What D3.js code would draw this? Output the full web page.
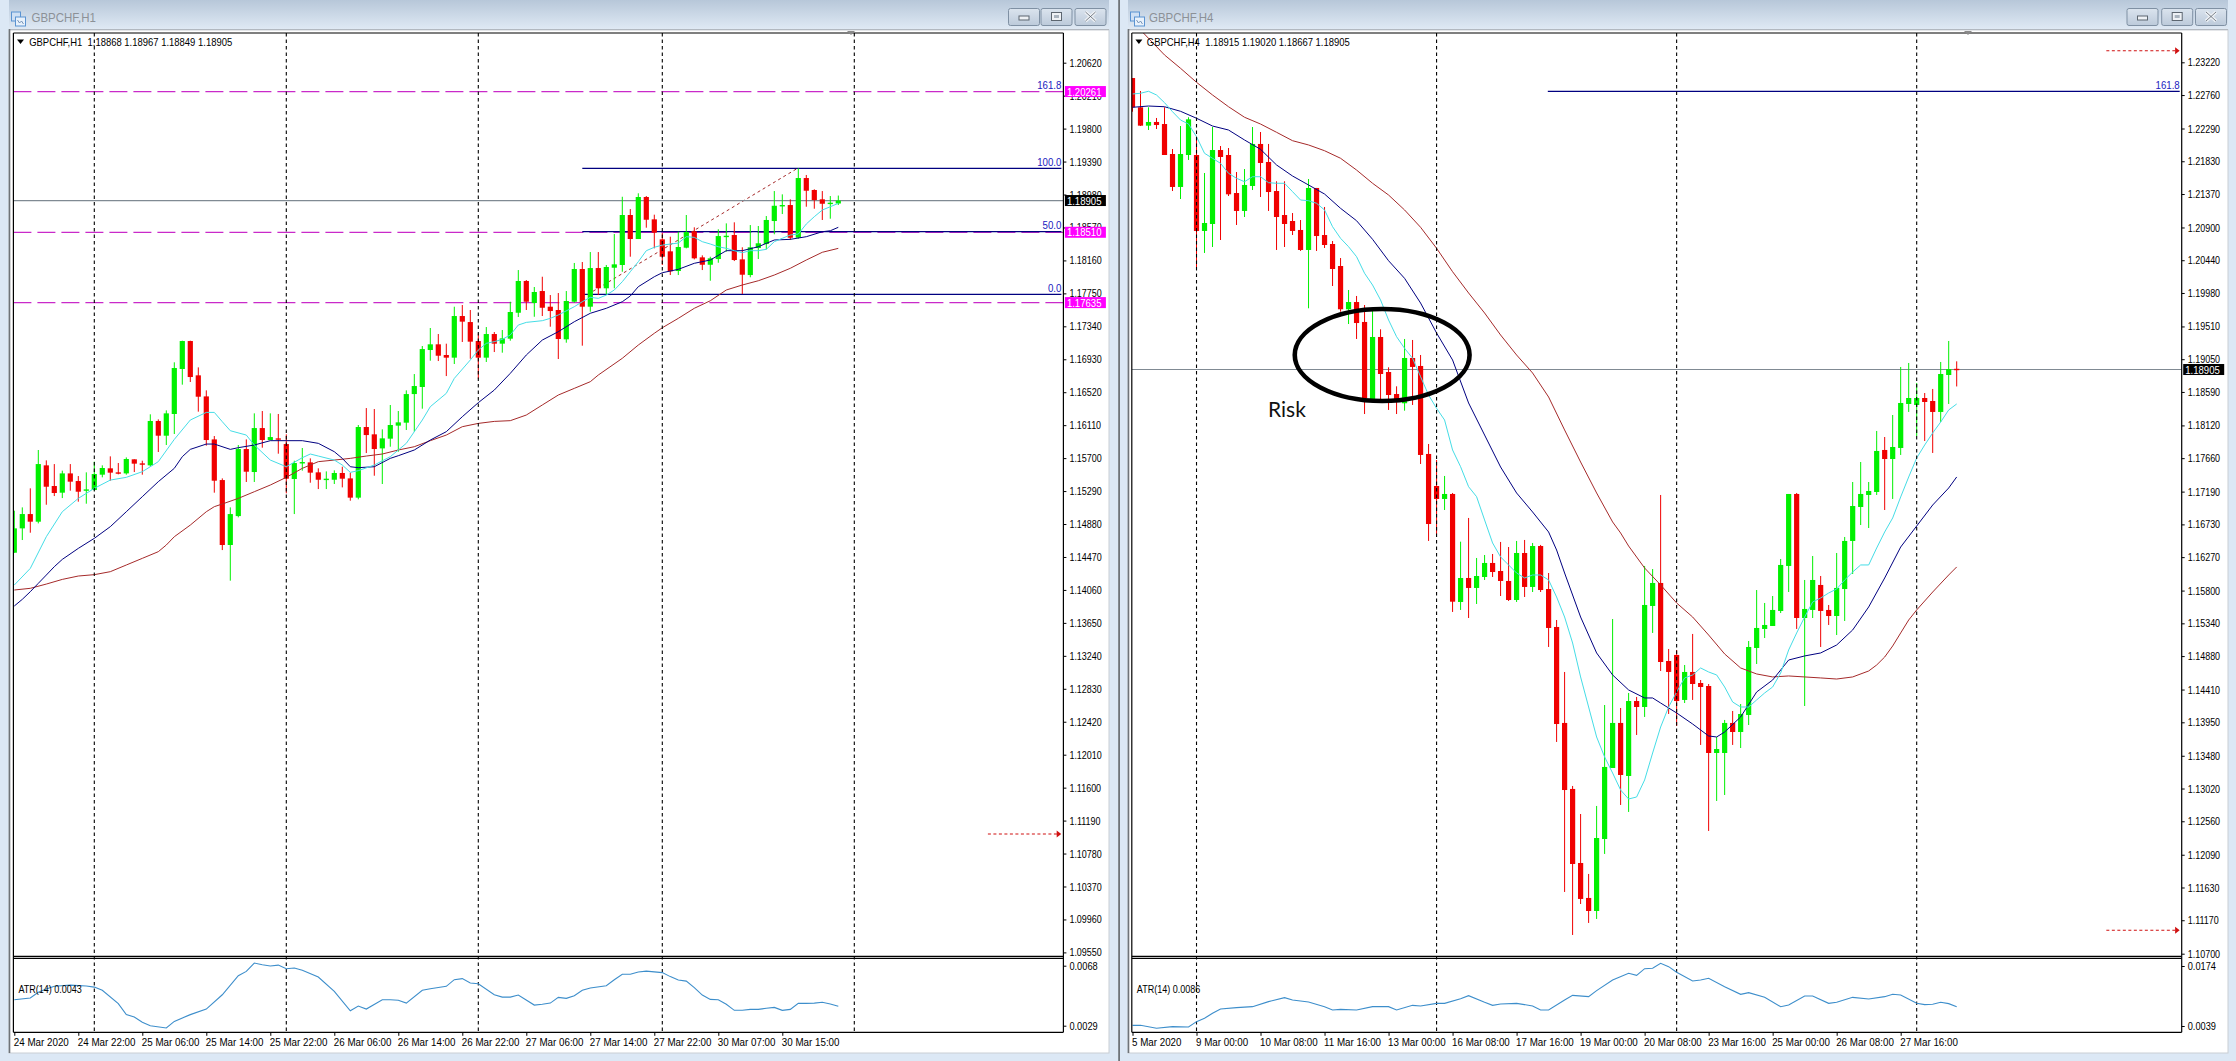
<!DOCTYPE html>
<html><head><meta charset="utf-8">
<script src="https://cdn.jsdelivr.net/npm/d3@7/dist/d3.min.js"></script>
<style>html,body{margin:0;padding:0;background:#dce8f5;overflow:hidden}svg{display:block}text{font-family:"Liberation Sans",Arial,sans-serif}</style>
</head><body>
<svg id="c" width="2236" height="1061"></svg>
<script>
// ---------- H1 chart data ----------
const h1Open=[1.14523,1.14826,1.15004,1.14909,1.15610,1.15353,1.15270,1.15510,1.15415,1.15295,
1.15303,1.15494,1.15573,1.15523,1.15510,1.15685,1.15635,1.15610,1.16162,1.15979,
1.16249,1.16809,1.17157,1.16730,1.16468,1.15933,1.15427,1.14619,1.14979,1.15813,
1.15527,1.16074,1.15925,1.15946,1.15875,1.15440,1.15635,1.15647,1.15523,1.15431,
1.15431,1.15515,1.15448,1.15208,1.16087,1.15996,1.15821,1.15942,1.16104,1.16141,
1.16497,1.16585,1.17045,1.17116,1.16983,1.16950,1.17468,1.17393,1.17157,1.16950,
1.17244,1.17124,1.17186,1.17509,1.17904,1.17630,1.17779,1.17584,1.17543,1.17178,
1.17646,1.18053,1.17584,1.18065,1.17813,1.18069,1.18103,1.18725,1.18426,1.18949,
1.18671,1.18422,1.18273,1.18028,1.18318,1.18522,1.18198,1.18106,1.18177,1.18451,
1.18476,1.18173,1.17978,1.18314,1.18364,1.18650,1.18833,1.18849,1.18442,1.19185,
1.19036,1.18920,1.18865,1.18868];
const h1Close=[1.14826,1.15004,1.14909,1.15626,1.15344,1.15266,1.15510,1.15407,1.15282,1.15311,
1.15502,1.15577,1.15519,1.15510,1.15689,1.15631,1.15622,1.16162,1.15979,1.16257,
1.16821,1.17157,1.16709,1.16464,1.15925,1.15419,1.14619,1.15004,1.15813,1.15531,
1.16074,1.15925,1.15962,1.15929,1.15444,1.15639,1.15651,1.15519,1.15431,1.15444,
1.15515,1.15444,1.15208,1.16087,1.15987,1.15813,1.15946,1.16112,1.16145,1.16497,
1.16597,1.17057,1.17116,1.16974,1.16950,1.17468,1.17398,1.17149,1.16950,1.17244,
1.17124,1.17190,1.17518,1.17904,1.17646,1.17767,1.17571,1.17530,1.17182,1.17655,
1.18053,1.17584,1.18065,1.17813,1.18078,1.18111,1.18725,1.18426,1.18949,1.18666,
1.18505,1.18206,1.18024,1.18327,1.18513,1.18186,1.18106,1.18186,1.18463,1.18467,
1.18165,1.17982,1.18323,1.18373,1.18663,1.18840,1.18849,1.18442,1.19185,1.19027,
1.18911,1.18865,1.18878,1.18905];
const h1High=[1.15046,1.15087,1.15324,1.15801,1.15672,1.15626,1.15544,1.15626,1.15477,1.15523,
1.15656,1.15610,1.15722,1.15639,1.15709,1.15685,1.15668,1.16245,1.16182,1.16294,
1.16892,1.17161,1.17161,1.16829,1.16543,1.15975,1.15448,1.15087,1.15863,1.15933,
1.16257,1.16286,1.16257,1.16249,1.15996,1.15668,1.15826,1.15697,1.15573,1.15535,
1.15548,1.15593,1.15519,1.16112,1.16323,1.16311,1.16058,1.16361,1.16286,1.16543,
1.16746,1.17095,1.17319,1.17244,1.17124,1.17584,1.17605,1.17543,1.17252,1.17331,
1.17269,1.17294,1.17646,1.18040,1.17916,1.17829,1.17957,1.17729,1.17754,1.17779,
1.18128,1.18140,1.18264,1.18264,1.18103,1.18488,1.18952,1.18799,1.18995,1.18961,
1.18729,1.18501,1.18455,1.18517,1.18725,1.18572,1.18223,1.18206,1.18547,1.18621,
1.18634,1.18323,1.18600,1.18588,1.18712,1.19023,1.18982,1.18920,1.19306,1.19223,
1.19045,1.19023,1.18961,1.18967];
const h1Low=[1.14523,1.14681,1.14772,1.14888,1.15120,1.15228,1.15203,1.15295,1.15158,1.15133,
1.15295,1.15461,1.15419,1.15498,1.15494,1.15527,1.15494,1.15593,1.15776,1.15863,
1.16000,1.16614,1.16647,1.16278,1.15855,1.15270,1.14556,1.14175,1.14963,1.15403,
1.15403,1.15830,1.15921,1.15755,1.15262,1.15004,1.15544,1.15394,1.15315,1.15315,
1.15378,1.15336,1.15170,1.15187,1.15763,1.15481,1.15378,1.15842,1.15780,1.16050,
1.16029,1.16315,1.16912,1.16908,1.16721,1.16871,1.17145,1.16937,1.16688,1.16896,
1.17020,1.17012,1.17161,1.17456,1.17543,1.17459,1.17468,1.17335,1.16933,1.17136,
1.17634,1.17099,1.17522,1.17729,1.17738,1.17813,1.18019,1.18206,1.18426,1.18567,
1.18310,1.18103,1.17978,1.17978,1.18310,1.18173,1.18040,1.17907,1.18131,1.18268,
1.18152,1.17742,1.17950,1.18177,1.18298,1.18485,1.18737,1.18414,1.18430,1.18828,
1.18803,1.18663,1.18679,1.18849];
const h1CyanBars=[0,2,4,6,8,10,12,14,16,18,20,22,24,25,26,27,29,30,32,34,36,37,38,40,41,42,43,45,47,49,51,52,54,55,57,58,59,60,61,62,63,64,66,67,68,70,71,72,73,74,75,76,77,78,79,80,81,83,84,85,86,87,88,89,90,91,92,93,94,95,96,97,98,99,100,101,102,103];
const h1CyanValues=[1.14121,1.14328,1.14722,1.15033,1.15199,1.15324,1.15427,1.15461,1.15531,1.15656,1.15933,1.16174,1.16269,1.16269,1.16153,1.16041,1.15987,1.15863,1.15676,1.15593,1.15705,1.15751,1.15726,1.15676,1.15614,1.15523,1.15544,1.15614,1.15718,1.15884,1.16174,1.16340,1.16506,1.16692,1.16921,1.17045,1.17128,1.17149,1.17178,1.17232,1.17356,1.17389,1.17410,1.17439,1.17481,1.17584,1.17646,1.17701,1.17688,1.17729,1.17792,1.17895,1.18019,1.18144,1.18281,1.18323,1.18351,1.18376,1.18455,1.18447,1.18393,1.18364,1.18330,1.18310,1.18281,1.18256,1.18281,1.18281,1.18298,1.18393,1.18435,1.18476,1.18488,1.18613,1.18704,1.18787,1.18828,1.18870];
const h1NavyBars=[0,1,2,3,4,5,6,8,10,12,14,16,18,20,21,22,24,25,27,28,30,32,34,36,38,40,41,42,43,45,47,48,50,52,54,56,58,60,62,64,66,68,70,72,74,76,77,78,80,81,83,85,87,89,91,93,95,97,99,101,102,103];
const h1NavyValues=[1.13860,1.13943,1.14038,1.14142,1.14245,1.14349,1.14440,1.14577,1.14702,1.14847,1.15033,1.15220,1.15407,1.15573,1.15718,1.15809,1.15875,1.15875,1.15809,1.15830,1.15863,1.15917,1.15917,1.15917,1.15884,1.15780,1.15697,1.15593,1.15581,1.15593,1.15697,1.15730,1.15801,1.15925,1.16029,1.16215,1.16390,1.16547,1.16755,1.16983,1.17169,1.17273,1.17397,1.17502,1.17564,1.17646,1.17717,1.17833,1.17957,1.18007,1.18049,1.18124,1.18165,1.18281,1.18281,1.18330,1.18414,1.18422,1.18455,1.18517,1.18529,1.18572];
const h1BrownBars=[0,2,4,6,8,10,12,14,16,18,19,20,22,24,25,26,28,30,32,34,36,38,40,42,44,46,48,50,52,54,56,58,60,62,64,66,68,70,72,73,76,78,80,81,83,85,87,89,91,93,95,97,99,101,103];
const h1BrownValues=[1.14059,1.14080,1.14133,1.14191,1.14233,1.14250,1.14287,1.14370,1.14453,1.14536,1.14619,1.14722,1.14867,1.15033,1.15096,1.15129,1.15199,1.15282,1.15365,1.15461,1.15573,1.15656,1.15676,1.15697,1.15726,1.15751,1.15801,1.15842,1.15917,1.15987,1.16091,1.16132,1.16157,1.16166,1.16236,1.16361,1.16485,1.16568,1.16651,1.16734,1.16942,1.17107,1.17253,1.17322,1.17439,1.17564,1.17658,1.17792,1.17854,1.17907,1.17978,1.18062,1.18165,1.18261,1.18310];
const h1AtrBars=[0,2,3,4,5,7,9,10,11,13,14,15,16,17,19,20,22,24,26,28,29,30,31,32,33,34,35,36,38,40,42,43,44,46,47,48,49,51,52,54,55,56,57,58,60,61,62,63,65,66,67,68,69,70,71,72,74,75,76,77,78,79,81,82,83,84,85,86,87,88,89,90,91,92,93,94,95,96,97,98,99,100,101,102,103];
const h1AtrValues=[.00459,.0047,.00507,.00528,.00546,.00554,.00548,.00541,.0052,.00433,.00362,.00346,.00312,.0029,.00275,.00318,.00362,.00398,.00491,.00615,.00643,.00697,.00686,.00678,.00684,.0066,.00665,.0065,.00606,.00513,.00387,.00418,.00398,.00459,.00459,.00455,.00437,.0052,.0053,.00546,.00589,.00596,.00567,.00563,.00491,.00476,.00476,.00489,.00424,.00429,.00437,.00474,.00468,.00485,.0052,.00535,.0055,.00589,.00624,.00624,.00639,.00645,.00635,.00609,.00587,.0058,.00537,.00489,.00461,.00459,.00429,.0039,.0039,.00396,.00396,.00403,.00409,.0039,.00396,.00435,.00435,.00437,.00442,.00431,.00416];
const h1PriceTicks=[1.2062,1.2021,1.198,1.1939,1.1898,1.1857,1.1816,1.1775,1.1734,1.1693,1.1652,1.1611,1.157,1.1529,1.1488,1.1447,1.1406,1.1365,1.1324,1.1283,1.1242,1.1201,1.116,1.1119,1.1078,1.1037,1.0996,1.0955];
const h1TimeTicks=[0,8,16,24,32,40,48,56,64,72,80,88,96];
const h1TimeLabels=["24 Mar 2020","24 Mar 22:00","25 Mar 06:00","25 Mar 14:00","25 Mar 22:00","26 Mar 06:00","26 Mar 14:00","26 Mar 22:00","27 Mar 06:00","27 Mar 14:00","27 Mar 22:00","30 Mar 07:00","30 Mar 15:00"];
const h1Separators=[10,34,58,81,105];
const h1Support=[1.20261,1.18510,1.17635];
const h1FibValues=[1.19306,1.18517,1.17738];
const h1Current=1.18905;

// ---------- H4 chart data ----------
const h4Open=[1.22999,1.22588,1.22330,1.22382,1.22353,1.21932,1.21469,1.21918,1.21918,1.20851,
1.20949,1.21988,1.21918,1.21384,1.21132,1.21483,1.22073,1.21820,1.21412,1.21075,
1.20991,1.20865,1.20584,1.21455,1.20794,1.20668,1.20359,1.19751,1.19853,1.19573,
1.18487,1.19362,1.18870,1.18561,1.18431,1.19067,1.18955,1.17719,1.17269,1.17087,
1.17157,1.15640,1.15977,1.15837,1.15991,1.16188,1.16075,1.15935,1.15668,1.16328,
1.15851,1.16426,1.15822,1.15289,1.13941,1.13014,1.11974,1.11483,1.11300,1.12311,
1.13308,1.13941,1.13196,1.14249,1.14165,1.15584,1.15907,1.14811,1.14896,1.14264,
1.14657,1.14502,1.14460,1.13519,1.13519,1.13941,1.13814,1.14053,1.14994,1.15261,
1.15303,1.15514,1.16146,1.17157,1.15415,1.15528,1.15879,1.15528,1.15443,1.15822,
1.16497,1.16974,1.17143,1.17185,1.17775,1.17648,1.17803,1.18421,1.18407,1.18505,
1.18463,1.18309,1.18828,1.18915];
const h4Close=[1.22588,1.22330,1.22382,1.22339,1.21918,1.21469,1.21932,1.22419,1.20851,1.20963,
1.21988,1.21890,1.21366,1.21132,1.21497,1.22073,1.21806,1.21398,1.21047,1.20949,
1.20851,1.20584,1.21455,1.20780,1.20654,1.20317,1.19751,1.19853,1.19558,1.18501,
1.19362,1.18842,1.18547,1.18477,1.19067,1.18941,1.17705,1.16735,1.17087,1.17157,
1.15644,1.15977,1.15837,1.16005,1.16188,1.16061,1.15935,1.15668,1.16328,1.15851,
1.16426,1.15808,1.15275,1.13926,1.12999,1.11960,1.11469,1.11300,1.12325,1.13323,
1.13941,1.13210,1.14249,1.14165,1.15598,1.15907,1.14797,1.14657,1.14249,1.14657,
1.14488,1.14446,1.13519,1.13575,1.13941,1.13814,1.14067,1.15008,1.15275,1.15317,
1.15528,1.16160,1.17157,1.15415,1.15542,1.15949,1.15514,1.15443,1.15837,1.16497,
1.16988,1.17157,1.17199,1.17761,1.17648,1.17817,1.18435,1.18505,1.18505,1.18449,
1.18309,1.18842,1.18912,1.18905];
const h4High=[1.22999,1.22817,1.22588,1.22438,1.22588,1.22002,1.22325,1.22448,1.22185,1.21665,
1.22311,1.22044,1.22016,1.21679,1.21721,1.22311,1.22241,1.22073,1.21549,1.21549,
1.21103,1.21005,1.21581,1.21455,1.21188,1.20710,1.20471,1.20022,1.19938,1.19811,
1.19731,1.19470,1.18936,1.18669,1.19334,1.19320,1.19109,1.17859,1.17634,1.17410,
1.17171,1.16487,1.16820,1.16258,1.16300,1.16314,1.16483,1.16412,1.16497,1.16511,
1.16469,1.16441,1.16047,1.15387,1.14657,1.13056,1.12662,1.11820,1.12775,1.14193,
1.15401,1.14151,1.14362,1.14306,1.16146,1.16103,1.17143,1.14980,1.14966,1.14755,
1.15191,1.14544,1.14488,1.13744,1.13983,1.14109,1.14207,1.15092,1.15808,1.15626,
1.15724,1.16244,1.17157,1.17171,1.15949,1.16286,1.16005,1.15598,1.16328,1.16553,
1.17325,1.17606,1.17325,1.18042,1.17957,1.18266,1.18941,1.18997,1.18716,1.18575,
1.18632,1.19011,1.19306,1.19020];
const h4Low=[1.22526,1.22325,1.22269,1.22283,1.21918,1.21412,1.21300,1.21848,1.20313,1.20542,
1.20626,1.20724,1.21342,1.20935,1.21047,1.21426,1.21328,1.21132,1.20584,1.20626,
1.20794,1.20570,1.19765,1.20570,1.20612,1.20078,1.19717,1.19544,1.19334,1.18280,
1.18487,1.18477,1.18337,1.18280,1.18327,1.18407,1.17578,1.16497,1.16595,1.16932,
1.15500,1.15528,1.15415,1.15612,1.15949,1.15991,1.15724,1.15654,1.15640,1.15710,
1.15780,1.15780,1.15008,1.13674,1.11567,1.10963,1.11398,1.11132,1.11188,1.12101,
1.13308,1.12789,1.12691,1.13772,1.14025,1.15205,1.14671,1.14067,1.13898,1.14221,
1.14264,1.13632,1.12424,1.12845,1.12929,1.13632,1.13589,1.13912,1.14769,1.15134,
1.15303,1.15485,1.15780,1.15261,1.14179,1.15415,1.15008,1.15317,1.15176,1.15373,
1.16033,1.16721,1.16679,1.17143,1.16932,1.17087,1.17705,1.18309,1.17971,1.17901,
1.17733,1.18168,1.18421,1.18667];
const h4CyanBars=d3.range(0,104);
const h4CyanValues=[1.22775,1.22785,1.22813,1.22761,1.22653,1.22526,1.22410,1.22353,1.22175,1.21942,
1.21872,1.21801,1.21661,1.21591,1.21543,1.21613,1.21613,1.21529,1.21521,1.21521,
1.21403,1.21286,1.21276,1.21240,1.21146,1.20911,1.20748,1.20630,1.20490,1.20257,
1.20092,1.19882,1.19601,1.19366,1.19203,1.19063,1.18805,1.18547,1.18360,1.18196,
1.17775,1.17540,1.17259,1.17119,1.16792,1.16469,1.16272,1.16160,1.16047,1.15977,
1.16019,1.16019,1.15949,1.15710,1.15429,1.15064,1.14587,1.14165,1.13744,1.13463,
1.13238,1.12999,1.12873,1.12901,1.13140,1.13519,1.13884,1.14165,1.14376,1.14573,
1.14615,1.14713,1.14657,1.14615,1.14446,1.14235,1.14165,1.14165,1.14264,1.14362,
1.14446,1.14643,1.14966,1.15205,1.15429,1.15640,1.15696,1.15766,1.15822,1.15949,
1.16061,1.16160,1.16160,1.16398,1.16623,1.16820,1.17115,1.17396,1.17662,1.17845,
1.18014,1.18168,1.18337,1.18421];
const h4NavyBars=[0,2,4,6,8,10,12,14,16,18,20,22,24,26,28,30,32,34,36,38,40,42,44,46,48,50,52,53,54,56,58,60,62,64,65,66,68,70,72,73,74,76,78,80,82,84,86,88,90,92,94,96,98,100,102,103];
const h4NavyValues=[1.22588,1.22606,1.22596,1.22532,1.22434,1.22325,1.22269,1.22129,1.21998,1.21778,1.21623,1.21497,1.21370,1.21169,1.20995,1.20734,1.20433,1.20186,1.19839,1.19418,1.19039,1.18435,1.17985,1.17536,1.17171,1.16904,1.16623,1.16370,1.16047,1.15429,1.14924,1.14615,1.14404,1.14292,1.14292,1.14221,1.14081,1.13926,1.13758,1.13744,1.13814,1.14025,1.14376,1.14544,1.14825,1.14882,1.14924,1.15036,1.15247,1.15570,1.15977,1.16412,1.16707,1.17002,1.17241,1.17396];
const h4BrownBars=[1,2,4,6,8,10,12,14,16,18,20,22,24,26,28,30,32,34,36,38,40,42,44,46,48,50,52,54,56,58,60,61,62,64,66,68,70,72,74,76,78,80,82,84,86,88,90,92,93,94,95,96,97,98,100,102,103];
const h4BrownValues=[1.23674,1.23557,1.23323,1.23136,1.22939,1.22761,1.22596,1.22448,1.22353,1.22237,1.22119,1.22059,1.21978,1.21872,1.21707,1.21521,1.21356,1.21146,1.20903,1.20608,1.20279,1.19980,1.19699,1.19390,1.19109,1.18856,1.18519,1.18056,1.17606,1.17171,1.16764,1.16609,1.16426,1.16117,1.15879,1.15626,1.15429,1.15176,1.14910,1.14713,1.14629,1.14587,1.14601,1.14587,1.14573,1.14558,1.14587,1.14671,1.14755,1.14867,1.15022,1.15205,1.15387,1.15528,1.15780,1.16019,1.16132];
const h4AtrBars=[0,1,3,5,7,8,9,10,11,13,15,17,19,20,22,24,25,26,28,30,32,33,35,36,38,39,41,42,44,45,46,48,50,51,52,54,55,57,58,60,62,63,64,65,66,67,68,70,71,72,74,76,77,79,81,82,84,85,87,88,90,92,94,95,96,98,99,100,101,102,103];
const h4AtrValues=[.00405,.00405,.00338,.00375,.00368,.00488,.00563,.00675,.00773,.00803,.00825,.00938,.01028,.00975,.0093,.00825,.0075,.00765,.0075,.00825,.00825,.0075,.00855,.0084,.009,.009,.01005,.01073,.00923,.00855,.00885,.009,.0084,.0075,.0075,.00975,.0108,.0105,.01185,.01425,.01575,.0153,.0168,.01688,.018,.01725,.01598,.01403,.01425,.01463,.01275,.01103,.0114,.01035,.00825,.00863,.01065,.01065,.009,.00923,.01035,.00998,.0105,.01103,.01088,.009,.0087,.00878,.00923,.00893,.00825];
const h4PriceTicks=[1.2322,1.2276,1.2229,1.2183,1.2137,1.209,1.2044,1.1998,1.1951,1.1905,1.1859,1.1812,1.1766,1.1719,1.1673,1.1627,1.158,1.1534,1.1488,1.1441,1.1395,1.1348,1.1302,1.1256,1.1209,1.1163,1.1117,1.107];
const h4TimeTicks=[0,8,16,24,32,40,48,56,64,72,80,88,96];
const h4TimeLabels=["5 Mar 2020","9 Mar 00:00","10 Mar 08:00","11 Mar 16:00","13 Mar 00:00","16 Mar 08:00","17 Mar 16:00","19 Mar 00:00","20 Mar 08:00","23 Mar 16:00","25 Mar 00:00","26 Mar 08:00","27 Mar 16:00"];
const h4Separators=[8,38,68,98];
const h4Current=1.18905;
const h4FibValue=1.22813;

const svg=d3.select('#c');
const defs=svg.append('defs');
const tg=defs.append('linearGradient').attr('id','tb').attr('x1',0).attr('x2',0).attr('y1',0).attr('y2',1);
tg.append('stop').attr('offset',0).attr('stop-color','#b7c7d9');
tg.append('stop').attr('offset',1).attr('stop-color','#dfe9f4');
const bg=defs.append('linearGradient').attr('id','bt').attr('x1',0).attr('x2',0).attr('y1',0).attr('y2',1);
bg.append('stop').attr('offset',0).attr('stop-color','#dbe4ee');
bg.append('stop').attr('offset',1).attr('stop-color','#bccada');

function condense(sel,k){
  sel.each(function(){
    const l=this.getComputedTextLength();
    this.setAttribute('textLength',(l*k).toFixed(1));
    this.setAttribute('lengthAdjust','spacingAndGlyphs');
  });
}

function drawWindow(o){
  const W=o.win, P=o.plot, g=svg.append('g');
  g.append('rect').attr('x',W.x0).attr('y',0).attr('width',W.x1-W.x0).attr('height',29).attr('fill','url(#tb)');
  g.append('rect').attr('x',W.x0).attr('y',29).attr('width',W.x1-W.x0).attr('height',1.2).attr('fill','#9aa3ad');
  g.append('rect').attr('x',W.x0).attr('y',30).attr('width',W.x1-W.x0).attr('height',1023).attr('fill','#fff').attr('stroke','#c9ced4').attr('stroke-width',1);
  g.append('line').attr('x1',W.x0+.5).attr('x2',W.x0+.5).attr('y1',29).attr('y2',1053).attr('stroke','#6f7479').attr('stroke-width',1.6);
  const ic=g.append('g').attr('transform',`translate(${W.x0+2.5},12)`);
  ic.append('rect').attr('width',9).attr('height',9).attr('fill','#cfe0f4').attr('stroke','#5b93d1').attr('stroke-width',1);
  ic.append('rect').attr('x',4).attr('y',5).attr('width',10).attr('height',9).attr('fill','#e8f1fb').attr('stroke','#5b93d1').attr('stroke-width',1);
  ic.append('path').attr('d','M6 8l2 3 2-2 2 3').attr('fill','none').attr('stroke','#5b7da8').attr('stroke-width',.8);
  const ti=g.append('text').attr('x',o.titleX).attr('y',22).attr('font-size',12.5).attr('fill','#8c9197').text(o.title);
  condense(ti,.92);
  o.buttons.forEach((bx,i)=>{
    g.append('rect').attr('x',bx).attr('y',8.5).attr('width',31).attr('height',17).attr('rx',2).attr('fill','url(#bt)').attr('stroke','#7f90a3');
    const cx=bx+15.5;
    if(i==0) g.append('rect').attr('x',cx-5).attr('y',16).attr('width',10).attr('height',4).attr('fill','#eef1f5').attr('stroke','#5d6670');
    if(i==1) g.append('rect').attr('x',cx-5).attr('y',12.5).attr('width',10).attr('height',8).attr('fill','#eef1f5').attr('stroke','#5d6670');
    if(i==1) g.append('rect').attr('x',cx-2.5).attr('y',15).attr('width',5).attr('height',3).attr('fill','#aab4bf');
    if(i==2) g.append('path').attr('d',`M${cx-5} 12l10 9M${cx+5} 12l-10 9`).attr('stroke','#eef1f5').attr('stroke-width',3.4);
    if(i==2) g.append('path').attr('d',`M${cx-5} 12l10 9M${cx+5} 12l-10 9`).attr('stroke','#5d6670').attr('stroke-width',.8).attr('fill','none');
  });

  const x=d3.scaleLinear().domain([0,103]).range(o.xRange);
  const y=d3.scaleLinear().domain(o.yDomain).range(o.yRange);
  const ya=d3.scaleLinear().domain(o.atrDomain).range(o.atrRange);

  const cid='clip'+o.id;
  defs.append('clipPath').attr('id',cid).append('rect').attr('x',P.l).attr('y',P.t).attr('width',P.r-P.l).attr('height',P.b-P.t);
  const main=g.append('g').attr('clip-path',`url(#${cid})`);

  g.selectAll(null).data(o.separators).join('line').attr('x1',d=>x(d)).attr('x2',d=>x(d)).attr('y1',P.t).attr('y2',P.bottom)
    .attr('stroke','#000').attr('stroke-width',1.1).attr('stroke-dasharray','3.5,3');

  if(o.levels) main.selectAll(null).data(o.levels).join('line').attr('x1',P.l).attr('x2',P.r).attr('y1',d=>y(d)).attr('y2',d=>y(d))
    .attr('stroke','#c92ac9').attr('stroke-width',1.2).attr('stroke-dasharray','18,6');
  o.fib.forEach(v=>main.append('line').attr('x1',x(o.fibStart)).attr('x2',P.r-2).attr('y1',y(v)).attr('y2',y(v)).attr('stroke','#000080').attr('stroke-width',1.2));
  if(o.trend) main.append('line').attr('x1',x(o.trend[0])).attr('x2',x(o.trend[2])).attr('y1',y(o.trend[1])).attr('y2',y(o.trend[3])).attr('stroke','#a52a2a').attr('stroke-width',1).attr('stroke-dasharray','3,3');
  main.append('line').attr('x1',P.l).attr('x2',P.r).attr('y1',y(o.current)).attr('y2',y(o.current)).attr('stroke','#808a93').attr('stroke-width',1.2);

  const idx=d3.range(o.open.length);
  const col=i=>o.close[i]>=o.open[i]?'#00f000':'#f00000';
  main.selectAll(null).data(idx).join('line').attr('x1',i=>x(i)).attr('x2',i=>x(i)).attr('y1',i=>y(o.high[i])).attr('y2',i=>y(o.low[i])).attr('stroke',col).attr('stroke-width',1);
  main.selectAll(null).data(idx).join('rect').attr('x',i=>x(i)-2.6).attr('width',5.2)
    .attr('y',i=>y(Math.max(o.open[i],o.close[i]))).attr('height',i=>Math.max(1.4,Math.abs(y(o.open[i])-y(o.close[i])))).attr('fill',col);
  const lineGen=(bars)=>d3.line().x((d,i)=>x(bars[i])).y(d=>y(d));
  o.mas.forEach(m=>main.append('path').attr('d',lineGen(m.bars)(m.values)).attr('fill','none').attr('stroke',m.color).attr('stroke-width',1));

  o.arrows.forEach(v=>{
    main.append('line').attr('x1',x(121.7)).attr('x2',x(130.6)).attr('y1',y(v)).attr('y2',y(v)).attr('stroke','#d01010').attr('stroke-width',1.1).attr('stroke-dasharray','3,2.5');
    main.append('path').attr('d',`M${x(130.3)} ${y(v)-3.5}L${x(130.3)+4.5} ${y(v)}L${x(130.3)} ${y(v)+3.5}Z`).attr('fill','#d01010');
  });

  g.append('path').attr('d',d3.line().x((d,i)=>x(o.atrBars[i])).y(d=>ya(d))(o.atrValues)).attr('fill','none').attr('stroke','#3d8ecb').attr('stroke-width',1.1);

  const f=g.append('g').attr('stroke','#000').attr('stroke-width',1.2);
  [P.t,P.b,P.subT,P.bottom].forEach(v=>f.append('line').attr('x1',P.l).attr('x2',P.r).attr('y1',v).attr('y2',v));
  [P.l,P.r].forEach(v=>f.append('line').attr('x1',v).attr('x2',v).attr('y1',P.t).attr('y2',P.bottom));

  const ax=g.append('g').attr('transform',`translate(${P.r},0)`).call(d3.axisRight(y).tickValues(o.priceTicks).tickFormat(d3.format('.5f')).tickSize(3).tickPadding(3));
  ax.select('.domain').remove();
  ax.attr('font-family','"Liberation Sans",Arial,sans-serif').attr('font-size',11);
  ax.selectAll('line').attr('stroke','#000');
  ax.selectAll('text').attr('fill','#000');
  condense(ax.selectAll('text'),.815);

  const aa=g.append('g').attr('transform',`translate(${P.r},0)`).call(d3.axisRight(ya).tickValues(o.atrDomain).tickFormat(d3.format('.4f')).tickSize(3).tickPadding(3));
  aa.select('.domain').remove();
  aa.attr('font-family','"Liberation Sans",Arial,sans-serif').attr('font-size',11);
  aa.selectAll('text').attr('fill','#000');
  condense(aa.selectAll('text'),.84);

  const tx=g.append('g').attr('transform',`translate(0,${P.bottom})`).call(d3.axisBottom(x).tickValues(o.timeTicks).tickFormat((d,i)=>o.timeLabels[i]).tickSize(3.5).tickPadding(2));
  tx.select('.domain').remove();
  tx.attr('font-family','"Liberation Sans",Arial,sans-serif').attr('font-size',11);
  tx.selectAll('text').attr('text-anchor','start').attr('dx',-1).attr('fill','#000');
  condense(tx.selectAll('text'),.89);

  g.append('path').attr('d',`M${P.l+3.6} 39.5h7l-3.5 4.6z`).attr('fill','#000');
  const hd=g.append('text').attr('x',P.l+o.hdOff).attr('y',46).attr('font-size',11).attr('fill','#000').attr('xml:space','preserve').text(o.header);
  condense(hd,.86);
  const at=g.append('text').attr('x',P.l+o.atrOff).attr('y',993).attr('font-size',11).attr('fill','#000').text(o.atrLabel);
  condense(at,.82);
  g.append('path').attr('d',`M${o.shiftX-4} 31h8l-4 4z`).attr('fill','#8a8a8a');

  const tag=(v,fill)=>{
    g.append('rect').attr('x',P.r+1.5).attr('y',y(v)-5.5).attr('width',41).attr('height',11).attr('fill',fill);
    const t=g.append('text').attr('x',P.r+3.5).attr('y',y(v)+4).attr('font-size',11).attr('fill','#fff').text(v.toFixed(5));
    condense(t,.87);
  };
  if(o.levels) o.levels.forEach(v=>tag(v,'#ff00ff'));
  tag(o.current,'#000');
  o.fibLabels.forEach(l=>{
    const t=g.append('text').attr('x',P.r-2).attr('y',y(l.v)-2.5).attr('text-anchor','end').attr('font-size',11).attr('fill','#2020c0').text(l.t);
    condense(t,.88);
  });
  return {g,x,y};
}

drawWindow({id:'a',win:{x0:9,x1:1109},plot:{l:13.4,r:1063.4,t:33,b:956.4,subT:958.4,bottom:1032.3},title:'GBPCHF,H1',titleX:31.5,
  buttons:[1008.5,1041,1075],xRange:[14.3,838.3],yDomain:[1.2062,1.0955],yRange:[62.7,952.4],atrDomain:[.0068,.0029],atrRange:[965.7,1025.7],
  separators:h1Separators,levels:h1Support,fib:h1FibValues,fibStart:71,trend:[71.7,1.17738,97.9,1.19306],current:h1Current,
  open:h1Open,close:h1Close,high:h1High,low:h1Low,
  mas:[{bars:h1BrownBars,values:h1BrownValues,color:'#a52a2a'},{bars:h1NavyBars,values:h1NavyValues,color:'#000080'},{bars:h1CyanBars,values:h1CyanValues,color:'#45dde6'}],
  arrows:[1.11023],atrBars:h1AtrBars,atrValues:h1AtrValues,priceTicks:h1PriceTicks,timeTicks:h1TimeTicks,timeLabels:h1TimeLabels,
  header:'GBPCHF,H1  1.18868 1.18967 1.18849 1.18905',hdOff:15.8,atrLabel:'ATR(14) 0.0043',atrOff:5,shiftX:851,
  fibLabels:[{t:'161.8',v:1.20261},{t:'100.0',v:1.19306},{t:'50.0',v:1.18517},{t:'0.0',v:1.17738}]});

const R=drawWindow({id:'b',win:{x0:1128,x1:2228},plot:{l:1131.8,r:2181.7,t:33,b:956.4,subT:958.4,bottom:1032.3},title:'GBPCHF,H4',titleX:1149,
  buttons:[2127,2161.7,2195.5],xRange:[1132.5,1956.7],yDomain:[1.2322,1.107],yRange:[62.3,953.7],atrDomain:[.0174,.0039],atrRange:[966,1026],
  separators:h4Separators,fib:[h4FibValue],fibStart:51.9,current:h4Current,
  open:h4Open,close:h4Close,high:h4High,low:h4Low,
  mas:[{bars:h4BrownBars,values:h4BrownValues,color:'#a52a2a'},{bars:h4NavyBars,values:h4NavyValues,color:'#000080'},{bars:h4CyanBars,values:h4CyanValues,color:'#45dde6'}],
  arrows:[1.23383,1.11029],atrBars:h4AtrBars,atrValues:h4AtrValues,priceTicks:h4PriceTicks,timeTicks:h4TimeTicks,timeLabels:h4TimeLabels,
  header:'GBPCHF,H4  1.18915 1.19020 1.18667 1.18905',hdOff:15,atrLabel:'ATR(14) 0.0086',atrOff:5,shiftX:1968,
  fibLabels:[{t:'161.8',v:h4FibValue}]});

R.g.append('ellipse').attr('cx',R.x(31.2)).attr('cy',R.y(1.19109)).attr('rx',87.4).attr('ry',46).attr('fill','none').attr('stroke','#000').attr('stroke-width',4.6);
R.g.append('text').attr('x',1268).attr('y',417).attr('font-size',21).attr('fill','#111').style('font-family','Lato,sans-serif').text('Risk');

svg.append('rect').attr('x',1118.2).attr('y',0).attr('width',1.8).attr('height',1061).attr('fill','#6f7479');
</script>
</body></html>
